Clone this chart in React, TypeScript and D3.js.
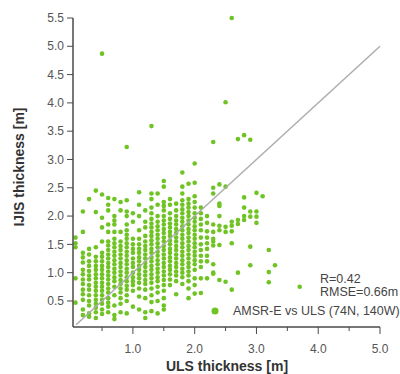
import * as d3 from "d3";

// ULS thickness columns (m) and the IJIS values read in each column
const ulsCols = [0.07, 0.19, 0.29, 0.4, 0.5, 0.6, 0.7, 0.8, 0.9, 1.0, 1.1, 1.2, 1.3, 1.4, 1.5, 1.6, 1.7, 1.8, 1.9, 2.0, 2.1, 2.2, 2.3, 2.4, 2.5, 2.6, 2.7, 2.8, 2.9, 3.0, 3.1, 3.2, 3.3, 3.7];
const ijisCols: number[][] = [
  [1.62, 1.52, 1.45, 0.9, 0.47],
  [2.08, 1.72, 1.35, 1.27, 1.18, 1.05, 0.97, 0.88, 0.8, 0.7, 0.62, 0.52, 0.35, 0.25],
  [2.3, 1.42, 1.32, 1.2, 1.12, 1.03, 0.95, 0.88, 0.78, 0.7, 0.6, 0.5, 0.42, 0.28, 0.22],
  [2.45, 2.07, 1.45, 1.28, 1.2, 1.12, 1.05, 0.97, 0.9, 0.82, 0.75, 0.68, 0.6, 0.52, 0.45, 0.38, 0.3, 0.2],
  [4.87, 2.38, 1.97, 1.8, 1.55, 1.35, 1.28, 1.2, 1.12, 1.05, 0.97, 0.9, 0.82, 0.75, 0.68, 0.6, 0.52, 0.45, 0.35, 0.27],
  [2.32, 2.2, 2.1, 1.85, 1.72, 1.55, 1.48, 1.4, 1.32, 1.25, 1.17, 1.1, 1.02, 0.95, 0.88, 0.8, 0.72, 0.65, 0.55, 0.47, 0.4, 0.3],
  [2.3, 2.0, 1.92, 1.85, 1.72, 1.6, 1.52, 1.45, 1.37, 1.3, 1.22, 1.15, 1.07, 1.0, 0.92, 0.85, 0.75, 0.6, 0.42, 0.25, 0.18],
  [2.25, 2.1, 1.72, 1.55, 1.47, 1.4, 1.32, 1.25, 1.17, 1.1, 1.02, 0.95, 0.87, 0.8, 0.72, 0.65, 0.55, 0.45, 0.3],
  [3.22, 2.28, 2.08, 2.0, 1.85, 1.75, 1.67, 1.6, 1.52, 1.45, 1.37, 1.3, 1.22, 1.15, 1.07, 1.0, 0.92, 0.85, 0.77, 0.7, 0.6, 0.5, 0.28],
  [2.05, 1.9, 1.6, 1.5, 1.42, 1.35, 1.25, 1.17, 1.1, 1.0, 0.92, 0.85, 0.78, 0.68, 0.4],
  [2.42, 2.2, 2.0, 1.75, 1.6, 1.5, 1.42, 1.35, 1.27, 1.2, 1.12, 1.05, 0.97, 0.9, 0.82, 0.72, 0.58, 0.35],
  [2.1, 1.9, 1.8, 1.65, 1.55, 1.47, 1.4, 1.32, 1.25, 1.17, 1.1, 1.02, 0.95, 0.87, 0.8, 0.7, 0.55, 0.3, 0.2],
  [3.59, 2.4, 2.3, 2.15, 2.05, 1.95, 1.87, 1.8, 1.72, 1.65, 1.57, 1.5, 1.42, 1.35, 1.27, 1.2, 1.12, 1.05, 0.97, 0.9, 0.82, 0.72, 0.6, 0.48, 0.32],
  [2.4, 2.2, 2.0, 1.9, 1.82, 1.75, 1.67, 1.6, 1.52, 1.45, 1.37, 1.3, 1.22, 1.15, 1.07, 1.0, 0.92, 0.85, 0.75, 0.65, 0.5, 0.28],
  [2.62, 2.52, 2.25, 2.18, 2.1, 2.0, 1.92, 1.85, 1.77, 1.7, 1.62, 1.55, 1.47, 1.4, 1.32, 1.25, 1.17, 1.1, 1.02, 0.95, 0.87, 0.78, 0.68, 0.55, 0.42, 0.35],
  [2.3, 2.2, 2.05, 1.95, 1.87, 1.8, 1.72, 1.65, 1.57, 1.5, 1.42, 1.35, 1.27, 1.2, 1.12, 1.05, 0.97, 0.88, 0.78],
  [2.22, 2.1, 2.0, 1.92, 1.85, 1.77, 1.7, 1.62, 1.55, 1.47, 1.4, 1.32, 1.25, 1.17, 1.1, 1.02, 0.95, 0.85, 0.62],
  [2.77, 2.52, 2.4, 2.28, 2.2, 2.12, 2.05, 1.97, 1.9, 1.82, 1.75, 1.67, 1.6, 1.52, 1.45, 1.37, 1.3, 1.22, 1.15, 1.07, 1.0, 0.92, 0.8],
  [2.57, 2.3, 2.22, 2.15, 2.07, 2.0, 1.92, 1.85, 1.77, 1.7, 1.62, 1.55, 1.47, 1.4, 1.32, 1.25, 1.17, 1.1, 1.02, 0.95, 0.85, 0.72, 0.55],
  [2.93, 2.59, 2.35, 2.25, 2.15, 2.05, 1.97, 1.9, 1.82, 1.75, 1.67, 1.6, 1.52, 1.45, 1.37, 1.3, 1.22, 1.15, 1.05, 0.9, 0.78, 0.63],
  [2.15, 2.05, 1.95, 1.85, 1.75, 1.62, 1.5, 1.4, 1.3, 1.2, 1.1, 0.9, 0.64],
  [2.0, 1.88, 1.73, 1.62, 1.52, 1.42, 1.3, 1.2, 0.9],
  [3.31, 2.5, 2.4, 1.85, 1.72, 1.6, 1.55, 1.48, 1.15, 1.0, 0.98],
  [2.56, 2.22, 2.18, 2.0, 1.83, 1.75, 1.49, 0.87],
  [4.01, 2.52, 1.81, 1.72, 0.84],
  [5.5, 1.9, 1.83, 1.73, 1.52, 0.7],
  [3.36, 1.93, 1.86, 1.0],
  [3.43, 2.33, 2.15, 2.0, 1.93],
  [3.35, 2.08, 1.99, 1.46, 1.13],
  [2.41, 2.08, 1.99, 1.88],
  [2.35],
  [1.4, 1.01, 0.83],
  [1.13],
  [0.75],
];

const yTicks = [0.5, 1.0, 1.5, 2.0, 2.5, 3.0, 3.5, 4.0, 4.5, 5.0, 5.5];
const xMajor = [1.0, 2.0, 3.0, 4.0, 5.0];
const xMinor = [0.5, 1.5, 2.5, 3.5, 4.5];
const statLines = ["R=0.42", "RMSE=0.66m"];
const legendLabel = "AMSR-E vs ULS (74N, 140W)";

const W = 400;
const H = 374;
const green = "#6fc323";
const axisColor = "#4a4a4a";
const font = "Arial, 'Liberation Sans', sans-serif";

export default function App() {
  const x = d3.scaleLinear().domain([0.03, 5.0]).range([73, 380]);
  const y = d3.scaleLinear().domain([0.04, 5.5]).range([327, 18]);

  const points = ulsCols.flatMap((u, i) => ijisCols[i].map((v) => [u, v]));

  return (
    <svg width={W} height={H} style={{ position: "absolute", left: 0, top: 0, background: "#fff" }} fontFamily={font}>
      {points.map(([u, v], i) => (
        <circle key={i} cx={x(u)} cy={y(v)} r={2.3} fill={green} />
      ))}

      {/* 1:1 line, drawn over the points */}
      <line x1={x(0.08)} y1={y(0.08)} x2={x(5)} y2={y(5)} stroke="#adadad" strokeWidth={1.5} />

      {/* axes */}
      <line x1={x(0.03)} y1={y(5.5)} x2={x(0.03)} y2={y(0.04)} stroke={axisColor} strokeWidth={1.5} />
      <line x1={x(0.03)} y1={y(0.04)} x2={x(5)} y2={y(0.04)} stroke={axisColor} strokeWidth={1.5} />

      {yTicks.map((t) => (
        <g key={t}>
          <line x1={x(0.03) - 6} x2={x(0.03)} y1={y(t)} y2={y(t)} stroke={axisColor} strokeWidth={1} />
          <text x={x(0.03) - 9} y={y(t)} dy="0.35em" textAnchor="end" fontSize={12} fill="#555">
            {t.toFixed(1)}
          </text>
        </g>
      ))}
      {xMajor.map((t) => (
        <g key={t}>
          <line x1={x(t)} x2={x(t)} y1={y(0.04)} y2={y(0.04) + 7} stroke={axisColor} strokeWidth={1} />
          <text x={x(t)} y={y(0.04) + 26} textAnchor="middle" fontSize={12} fill="#555">
            {t.toFixed(1)}
          </text>
        </g>
      ))}
      {xMinor.map((t) => (
        <line key={t} x1={x(t)} x2={x(t)} y1={y(0.04)} y2={y(0.04) + 4} stroke={axisColor} strokeWidth={1} />
      ))}

      <text x={227} y={371} textAnchor="middle" fontSize={14} fontWeight="bold" fill="#333">
        ULS thickness [m]
      </text>
      <text transform="translate(24,167) rotate(-90)" textAnchor="middle" fontSize={14} fontWeight="bold" fill="#333">
        IJIS thickness [m]
      </text>

      {statLines.map((s, i) => (
        <text key={s} x={320} y={283 + i * 13} fontSize={12.5} fill="#444">
          {s}
        </text>
      ))}
      <circle cx={215} cy={311} r={3.5} fill={green} />
      <text x={233} y={315} fontSize={12.5} fill="#444">
        {legendLabel}
      </text>
    </svg>
  );
}
